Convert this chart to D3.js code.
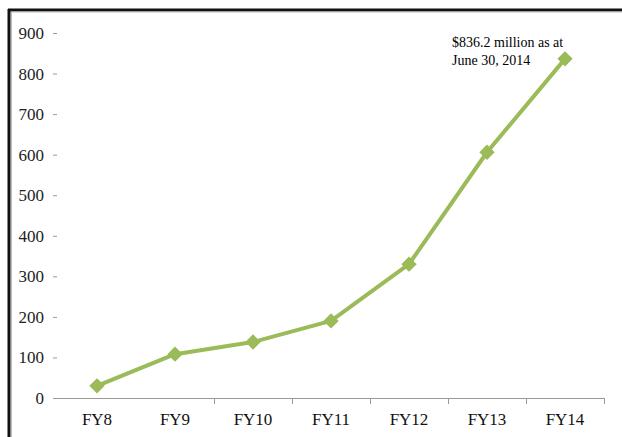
<!DOCTYPE html>
<html>
<head>
<meta charset="utf-8">
<script src="https://cdn.jsdelivr.net/npm/d3@7"></script>
<style>
  body { margin: 0; background: #fff; }
  svg { display: block; }
</style>
</head>
<body>
<div id="chart"></div>
<script>
// dane wykresu
const years = ["FY8", "FY9", "FY10", "FY11", "FY12", "FY13", "FY14"];
const values = [30, 108, 138, 190, 330, 606, 836.2];
const yTicks = [0, 100, 200, 300, 400, 500, 600, 700, 800, 900];
const noteLines = ["$836.2 million as at", "June 30, 2014"];

const width = 622, height = 437;
const svg = d3.select("#chart").append("svg")
    .attr("width", width)
    .attr("height", height);

// ramka (góra i lewo)
svg.append("line").attr("x1", 8).attr("y1", 10).attr("x2", width).attr("y2", 10)
    .attr("stroke", "#111").attr("stroke-width", 3);
svg.append("line").attr("x1", 9).attr("y1", 9).attr("x2", 9).attr("y2", height)
    .attr("stroke", "#111").attr("stroke-width", 3);
svg.append("line").attr("x1", 11).attr("y1", 12).attr("x2", width).attr("y2", 12)
    .attr("stroke", "#bbb").attr("stroke-width", 1);
svg.append("line").attr("x1", 11.5).attr("y1", 12).attr("x2", 11.5).attr("y2", height)
    .attr("stroke", "#bbb").attr("stroke-width", 1);

// skale
const x0 = 58, x1 = 604;
const xBand = d3.scaleBand().domain(years).range([x0, x1]);
const x = d3.scalePoint().domain(years).range([x0, x1]).padding(0.5);
const y = d3.scaleLinear().domain([0, 900]).range([398, 33]);

// oś Y - etykiety i kreski
const yg = svg.append("g");
yg.selectAll("text").data(yTicks).enter().append("text")
    .attr("x", 44)
    .attr("y", d => y(d) + 6)
    .attr("text-anchor", "end")
    .attr("font-family", "Liberation Serif, Times New Roman, serif")
    .attr("font-size", 17)
    .attr("fill", "#222")
    .text(d => d);
yg.selectAll("line").data(yTicks.filter(d => d > 0)).enter().append("line")
    .attr("x1", 53).attr("x2", 57)
    .attr("y1", d => y(d) + 0.5).attr("y2", d => y(d) + 0.5)
    .attr("stroke", "#999");

// oś X
svg.append("line")
    .attr("x1", 53).attr("x2", x1)
    .attr("y1", y(0) + 0.5).attr("y2", y(0) + 0.5)
    .attr("stroke", "#999");
const tickXs = years.slice(2).map(d => xBand(d)).concat([x1]);
svg.selectAll(".xTick").data(tickXs).enter().append("line")
    .attr("class", "xTick")
    .attr("x1", d => Math.round(d) + 0.5).attr("x2", d => Math.round(d) + 0.5)
    .attr("y1", y(0)).attr("y2", y(0) + 6)
    .attr("stroke", "#999");
svg.selectAll(".xLabel").data(years).enter().append("text")
    .attr("class", "xLabel")
    .attr("x", d => x(d))
    .attr("y", 425)
    .attr("text-anchor", "middle")
    .attr("font-family", "Liberation Serif, Times New Roman, serif")
    .attr("font-size", 17)
    .attr("fill", "#111")
    .text(d => d);

// linia
const line = d3.line()
    .x((d, i) => x(years[i]))
    .y(d => y(d));
svg.append("path")
    .datum(values)
    .attr("d", line)
    .attr("fill", "none")
    .attr("stroke", "#9bbb59")
    .attr("stroke-width", 4)
    .attr("stroke-linejoin", "round");

// znaczniki (romby)
const diamond = d3.symbol().type(d3.symbolDiamond2).size(150);
svg.selectAll(".marker").data(values).enter().append("path")
    .attr("class", "marker")
    .attr("d", diamond)
    .attr("transform", (d, i) => `translate(${x(years[i])},${y(d)})`)
    .attr("fill", "#9bbb59");

// adnotacja
svg.selectAll(".note").data(noteLines).enter().append("text")
    .attr("class", "note")
    .attr("x", 452)
    .attr("y", (d, i) => 47 + i * 18)
    .attr("font-family", "Liberation Serif, Times New Roman, serif")
    .attr("font-size", 14)
    .attr("fill", "#000")
    .text(d => d);
</script>
</body>
</html>
